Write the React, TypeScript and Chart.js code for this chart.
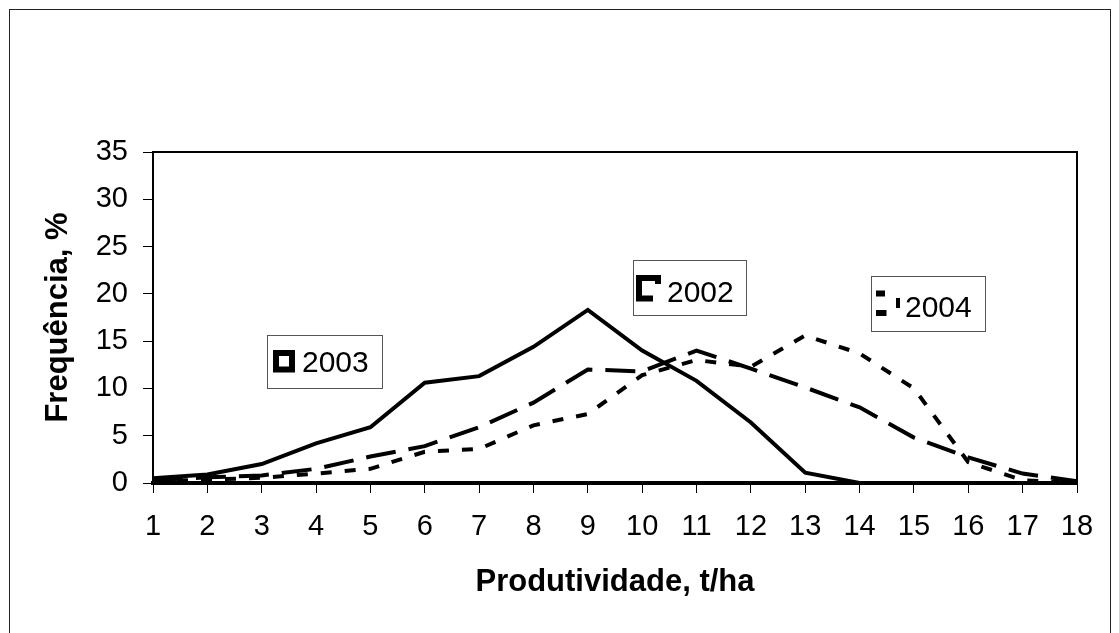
import React, { useEffect, useRef } from "react";
import { Chart, registerables } from "chart.js";

Chart.register(...registerables);

const categories = ["1","2","3","4","5","6","7","8","9","10","11","12","13","14","15","16","17","18"];
const series2003 = [0.5, 0.9, 2.0, 4.2, 5.9, 10.6, 11.3, 14.4, 18.3, 14.0, 10.8, 6.4, 1.1, 0, 0, 0, 0, 0];
const series2002 = [0.3, 0.6, 0.8, 1.5, 2.8, 3.9, 5.9, 8.5, 12.0, 11.8, 14.0, 12.1, 10.1, 8.0, 4.8, 2.7, 1.0, 0.2];
const series2004 = [0.2, 0.35, 0.55, 1.0, 1.5, 3.3, 3.6, 6.1, 7.3, 11.4, 13.0, 12.3, 15.6, 13.7, 10.0, 2.2, 0.3, 0];
const seriesNames = ["2003", "2002", "2004"];
const yTicks = [0, 5, 10, 15, 20, 25, 30, 35];
const xTitle = "Produtividade, t/ha";
const yTitle = "Frequência, %";

const FONT = "'Liberation Sans', Arial, sans-serif";

const decor = {
  id: "decor",
  beforeDraw(chart: any) {
    const ctx = chart.ctx;
    ctx.save();
    ctx.fillStyle = "#fff";
    ctx.fillRect(0, 0, chart.width, chart.height);
    ctx.restore();
  },
  afterDraw(chart: any) {
    const { ctx, chartArea } = chart;
    ctx.save();
    // outer frame (bottom edge lies outside the picture)
    ctx.strokeStyle = "#222";
    ctx.lineWidth = 1;
    ctx.strokeRect(9.5, 9.5, 1101, 640);
    // plot top & right border
    ctx.strokeStyle = "#000";
    ctx.lineWidth = 2;
    ctx.beginPath();
    ctx.moveTo(chartArea.left, chartArea.top);
    ctx.lineTo(chartArea.right, chartArea.top);
    ctx.lineTo(chartArea.right, chartArea.bottom);
    ctx.stroke();

    const boxes = [
      { x: 267, y: 335, w: 115, h: 53, tx: 302, ty: 372 },
      { x: 633, y: 260, w: 113, h: 55, tx: 667, ty: 302 },
      { x: 871, y: 276, w: 114, h: 55, tx: 905, ty: 317 },
    ];
    boxes.forEach((b, i) => {
      ctx.fillStyle = "#fff";
      ctx.fillRect(b.x, b.y, b.w, b.h);
      ctx.strokeStyle = "#555";
      ctx.lineWidth = 1;
      ctx.strokeRect(b.x + 0.5, b.y + 0.5, b.w, b.h);
      ctx.fillStyle = "#000";
      ctx.strokeStyle = "#000";
      if (i === 0) {
        ctx.lineWidth = 6;
        ctx.strokeRect(276, 353, 16, 16.5);
      } else if (i === 1) {
        ctx.lineWidth = 6;
        ctx.lineCap = "butt";
        ctx.lineJoin = "miter";
        ctx.beginPath();
        ctx.moveTo(653, 298.5);
        ctx.lineTo(639, 298.5);
        ctx.lineTo(639, 278);
        ctx.lineTo(658, 278);
        ctx.lineTo(658, 284);
        ctx.stroke();
      } else {
        ctx.fillRect(876, 290.5, 9, 6);
        ctx.fillRect(876, 310, 10.5, 6);
        ctx.fillRect(896, 298, 4, 10);
      }
      ctx.font = `30px ${FONT}`;
      ctx.textBaseline = "alphabetic";
      ctx.textAlign = "left";
      ctx.fillText(seriesNames[i], b.tx, b.ty);
    });
    ctx.restore();
  },
};

export default function App() {
  const ref = useRef<HTMLCanvasElement | null>(null);
  useEffect(() => {
    document.body.style.margin = "0";
    const canvas = ref.current!;
    const lineBase = {
      borderColor: "#000",
      borderWidth: 4,
      pointRadius: 0,
      fill: false,
      tension: 0,
      borderCapStyle: "butt" as const,
      borderJoinStyle: "miter" as const,
    };
    const chart = new Chart(canvas, {
      type: "line",
      data: {
        labels: categories,
        datasets: [
          { ...lineBase, label: seriesNames[0], data: series2003 },
          { ...lineBase, label: seriesNames[1], data: series2002, borderDash: [30, 13] },
          { ...lineBase, label: seriesNames[2], data: series2004, borderDash: [11, 13] },
        ],
      },
      options: {
        responsive: false,
        animation: false,
        devicePixelRatio: 1,
        layout: { padding: { left: 0, top: 152, right: 42, bottom: 0 } },
        plugins: { legend: { display: false }, tooltip: { enabled: false } },
        scales: {
          x: {
            type: "category",
            offset: false,
            grid: { display: true, drawOnChartArea: false, color: "#000", lineWidth: 1, tickLength: 10 },
            border: { display: true, color: "#000", width: 4 },
            ticks: { color: "#000", font: { family: FONT, size: 29 }, padding: 17, maxRotation: 0, autoSkip: false },
            title: { display: true, text: xTitle, color: "#000", font: { family: FONT, size: 31, weight: "bold" }, padding: { top: 0, bottom: 32 } },
            afterFit: (s: any) => { s.height = 150; },
          },
          y: {
            min: 0,
            max: 35,
            afterBuildTicks: (s: any) => { s.ticks = yTicks.map((v) => ({ value: v })); },
            grid: { display: true, drawOnChartArea: false, color: "#000", lineWidth: 1, tickLength: 10 },
            border: { display: true, color: "#000", width: 2 },
            ticks: { color: "#000", font: { family: FONT, size: 29 }, padding: 15 },
            title: { display: true, text: yTitle, color: "#000", font: { family: FONT, size: 31, weight: "bold" }, padding: { top: 40, bottom: 0 } },
            afterFit: (s: any) => { s.width = 153; },
          },
        },
      },
      plugins: [decor],
    });
    return () => chart.destroy();
  }, []);
  return <canvas ref={ref} width={1119} height={633} style={{ display: "block", width: 1119, height: 633 }} />;
}
